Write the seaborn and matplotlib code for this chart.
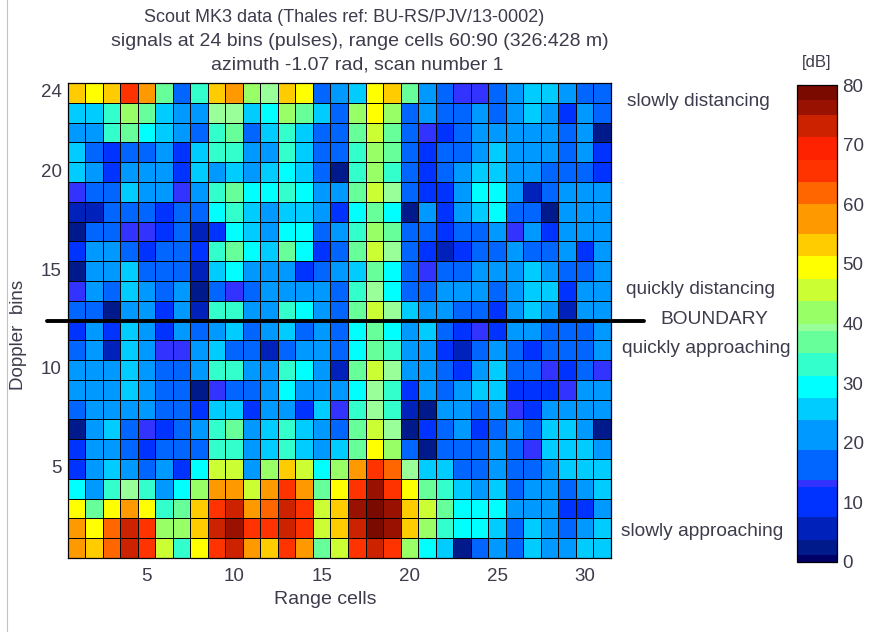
import numpy as np
import pandas as pd
import matplotlib
matplotlib.use("Agg")
import matplotlib.pyplot as plt
from matplotlib.colors import ListedColormap, BoundaryNorm
import seaborn as sns

W, H = 873, 632

row_24 = [53,49,53,66,58,37,16,33,53,58,42,39,53,49,16,21,26,49,53,37,21,16,13,13,16,21,26,26,21,16,16]
row_23 = [26,26,33,42,37,26,21,21,39,39,26,29,42,37,26,16,42,49,42,16,21,16,16,21,16,21,26,21,10,21,16]
row_22 = [21,21,33,37,29,26,21,16,33,37,16,26,33,26,16,16,37,46,37,16,13,10,16,21,21,21,21,21,16,21,3]
row_21 = [26,16,10,16,16,21,10,26,33,33,21,21,33,26,16,16,33,42,37,16,10,16,16,21,26,21,21,21,16,21,10]
row_20 = [26,21,10,21,21,21,10,26,21,26,21,26,29,26,16,3,33,42,33,16,10,16,21,26,26,21,21,16,16,16,10]
row_19 = [13,16,16,26,21,21,13,21,33,37,29,29,33,29,21,21,37,46,39,16,10,10,21,29,29,21,6,16,21,21,21]
row_18 = [6,6,16,16,16,10,16,16,29,33,26,21,26,26,21,10,29,37,29,3,21,10,21,26,29,16,16,3,21,21,21]
row_17 = [3,16,16,13,13,10,16,6,10,29,26,21,29,29,16,21,33,42,37,16,16,10,16,16,21,13,21,10,21,21,21]
row_16 = [10,21,21,16,10,16,16,10,33,37,29,26,37,29,10,16,37,46,39,16,10,6,10,16,16,21,16,16,21,10,21]
row_15 = [3,21,21,26,16,16,16,6,26,29,21,21,21,10,16,21,26,37,29,16,13,16,16,21,21,21,26,21,16,16,21]
row_14 = [13,21,16,26,21,16,21,3,16,13,16,21,21,21,21,16,33,39,29,16,16,21,21,21,16,21,26,26,10,21,21]
row_13 = [16,16,3,21,21,10,21,6,33,33,21,21,33,29,21,16,37,46,39,26,21,21,16,16,10,21,26,21,6,21,21]
row_12 = [10,21,10,26,21,10,21,16,21,26,16,21,26,16,21,16,29,37,29,21,26,16,10,13,10,21,21,16,16,16,21]
row_11 = [16,21,6,26,21,13,13,21,26,16,16,6,16,21,21,16,29,37,33,21,21,10,6,16,21,16,10,16,16,16,21]
row_10 = [21,21,21,26,21,16,16,21,33,33,21,21,33,29,21,6,37,46,39,21,21,16,10,21,26,16,16,13,10,16,13]
row_09 = [21,21,21,26,21,16,16,3,13,16,16,21,29,21,21,21,29,39,33,10,21,16,21,26,26,10,10,10,13,21,21]
row_08 = [16,21,21,21,21,16,16,10,26,26,10,21,21,10,26,13,33,39,33,6,3,21,21,16,21,13,10,21,21,21,21]
row_07 = [3,21,26,16,13,10,16,21,33,37,21,26,33,26,21,16,37,46,39,3,10,16,21,10,16,21,16,26,26,21,3]
row_06 = [10,21,21,16,10,16,16,16,33,33,21,26,33,26,21,26,37,49,42,16,3,16,16,16,21,16,13,26,26,26,21]
row_05 = [10,21,26,21,16,21,10,29,46,46,21,42,53,46,29,42,58,66,62,39,26,26,16,16,21,16,16,21,26,26,26]
row_04 = [29,21,33,39,33,21,29,42,58,58,46,58,66,58,37,49,66,76,66,49,37,33,26,21,26,16,21,21,16,21,26]
row_03 = [49,37,49,58,49,33,37,53,66,73,58,62,73,66,46,53,76,79,76,53,46,37,29,29,29,21,21,21,10,10,21]
row_02 = [58,49,62,73,66,42,42,53,73,76,66,66,73,66,46,53,73,79,76,53,42,33,29,29,26,16,26,21,16,21,26]
row_01 = [58,53,62,73,66,46,33,49,66,73,58,53,66,58,37,46,66,73,66,42,29,26,3,16,21,16,26,21,21,26,26]

rows = [row_24,row_23,row_22,row_21,row_20,row_19,row_18,row_17,row_16,row_15,row_14,row_13,
        row_12,row_11,row_10,row_09,row_08,row_07,row_06,row_05,row_04,row_03,row_02,row_01]

doppler_bins = list(range(24, 0, -1))
range_cells = list(range(1, 32))
x_tick_labels = [5, 10, 15, 20, 25, 30]
y_tick_labels = [5, 10, 15, 20, 24]
cbar_tick_labels = [0, 10, 20, 30, 40, 50, 60, 70, 80]

level_edges = [0,1.25,3.75,7.5,12.5,13.75,18.75,23.75,27.5,31.25,35,38.75,40,43.75,47.5,51.25,55,60,63.75,67.5,71.25,75,77.5,80]
level_colors = ["#000066","#001a8c","#0022bb","#0033ff","#3333ff","#0066ff","#0099ff","#00ccff","#00ffff","#33ffcc",
                "#66ff99","#99ff99","#99ff66","#ccff33","#ffff00","#ffcc00","#ff9900","#ff6600","#ff3300","#ff2200",
                "#cc2200","#991100","#7a0a00"]

title_lines = ["Scout MK3 data (Thales ref: BU-RS/PJV/13-0002)",
               "signals at 24 bins (pulses), range cells 60:90 (326:428 m)",
               "azimuth -1.07 rad, scan number 1"]

sns.set_theme(style="white")
plt.rcParams["font.family"] = ["Liberation Sans", "DejaVu Sans"]
TXT = "#3c3c4c"

fig = plt.figure(figsize=(W/100, H/100), dpi=100, facecolor="white")
def box(l, t, r, b):
    return [l/W, 1-b/H, (r-l)/W, (b-t)/H]
ax = fig.add_axes(box(67.5, 83, 611, 558))
cax = fig.add_axes(box(797, 85, 837, 562))

cmap = ListedColormap(level_colors)
norm = BoundaryNorm(level_edges, cmap.N)
df = pd.DataFrame(rows, index=doppler_bins, columns=range_cells)
sns.heatmap(df, ax=ax, cmap=cmap, norm=norm, linewidths=0.7, linecolor="black", square=False,
            cbar_ax=cax, cbar_kws={"spacing": "proportional", "ticks": cbar_tick_labels,
                                   "drawedges": False})

ax.set_xticks([v - 0.5 for v in x_tick_labels])
ax.set_xticklabels(x_tick_labels, rotation=0, fontsize=13.5, color=TXT)
ax.set_yticks([24 - v + 0.5 for v in y_tick_labels])
ax.set_yticklabels(y_tick_labels, rotation=0, fontsize=13.5, color=TXT)
ax.tick_params(axis="both", length=0)
ax.tick_params(axis="x", pad=7)
ax.tick_params(axis="y", pad=4)
ax.set_xlabel("")
ax.set_ylabel("")
for s in ax.spines.values():
    s.set_visible(True); s.set_color("black"); s.set_linewidth(0.9)

# boundary line between Doppler bins 12 and 13
ax.plot([-1.15, 32.9], [12, 12], color="black", lw=2.8, clip_on=False, zorder=10)

cb = ax.collections[0].colorbar
cb.ax.minorticks_off()
cb.ax.yaxis.set_ticks_position("both")
cb.ax.tick_params(axis="y", which="major", direction="in", left=True, right=True, length=3.5, width=0.8,
                  color="black", labelsize=13.5, labelcolor=TXT, pad=4, labelleft=False, labelright=True)
cb.outline.set_visible(True); cb.outline.set_edgecolor("black"); cb.outline.set_linewidth(0.9)

def txt(x, y, s, **kw):
    kw.setdefault("fontsize", 13)
    kw.setdefault("color", TXT)
    kw.setdefault("va", "center")
    fig.text(x/W, 1-y/H, s, **kw)

for x, y, size, s in zip([344, 360, 357], [18, 41, 65], [13, 14, 14], title_lines):
    txt(x, y, s, ha="center", fontsize=size)
txt(325, 600, "Range cells", ha="center", fontsize=14)
txt(19, 335, "Doppler  bins", ha="center", rotation=90, fontsize=13.5)
txt(817, 63, "[dB]", ha="center", fontsize=12)
for x, y, s in [(627, 101, "slowly distancing"), (626, 289, "quickly distancing"), (660, 320, "BOUNDARY"),
                (622, 348, "quickly approaching"), (621, 532, "slowly approaching")]:
    txt(x, y, s, fontsize=13.8)

fig.add_artist(plt.Line2D([6.5/W, 6.5/W], [0, 1], color="#c0c0c0", lw=0.8))

fig.savefig("out.png", dpi=100)
